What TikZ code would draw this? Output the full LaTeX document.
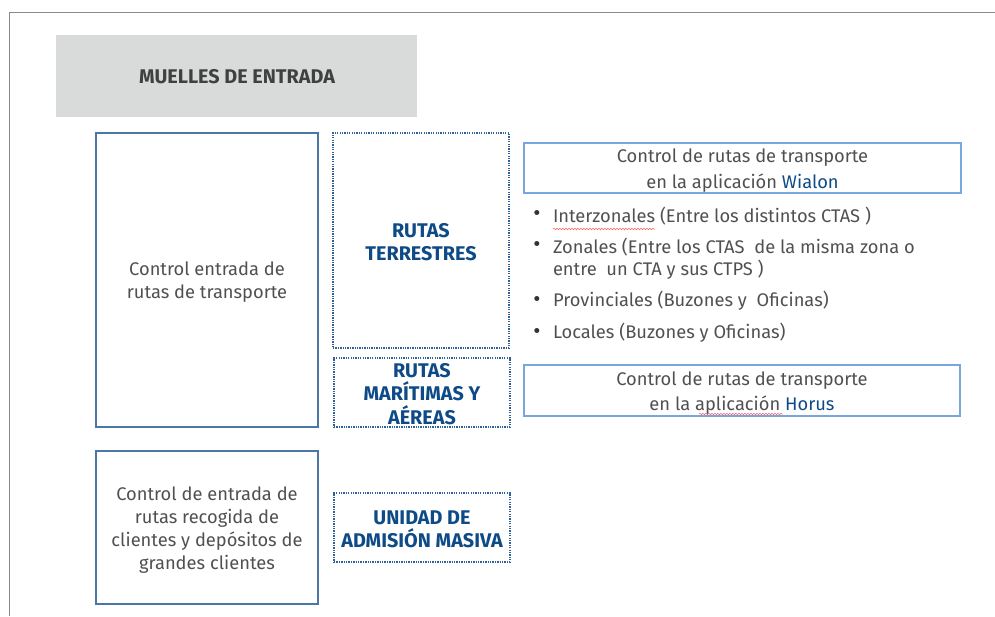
\documentclass[tikz,border=0pt]{standalone}
\usepackage{fontspec}
\setmainfont{Fira Sans}
\usetikzlibrary{decorations.pathmorphing}
\definecolor{framegray}{HTML}{8A8A8A}
\definecolor{headgray}{HTML}{D9DADA}
\definecolor{solidblue}{HTML}{4C76A3}
\definecolor{lightblue}{HTML}{79A6DC}
\definecolor{dotblue}{HTML}{2F6096}
\definecolor{titleblue}{HTML}{0E4A86}
\definecolor{txtgray}{HTML}{505050}
\tikzset{
  x=1pt, y=-1pt,
  every node/.style={inner sep=0pt, outer sep=0pt, font=\fontsize{18.3}{23}\selectfont, text=txtgray},
  solidbox/.style={draw=solidblue, line width=1.3pt, anchor=north west},
  dotbox/.style={draw=dotblue, line width=1.3pt, dash pattern=on 1.3pt off 1.1pt, anchor=north west},
  appbox/.style={draw=lightblue, line width=1.2pt, anchor=north west},
  boldtitle/.style={font=\bfseries\fontsize{19.8}{23.3}\selectfont, text=titleblue, align=center, yshift=-1.5pt},
  plain/.style={align=center, yshift=-2.5pt},
  apptext/.style={align=center, yshift=-2.5pt, font=\fontsize{18.3}{25.5}\selectfont},
  itemtext/.style={anchor=west, align=left},
  dotitem/.style={anchor=center, font=\fontsize{22}{23}\selectfont, text=black!80},
  squiggle/.style={draw=red!70, line width=0.5pt, decorate, decoration={snake, amplitude=0.6pt, segment length=3pt}}
}
\begin{document}
\begin{tikzpicture}
\useasboundingbox (0,0) rectangle (995,616);
% outer frame
\coordinate (f1) at (995,12);
\coordinate (f2) at (9,12);
\coordinate (f3) at (9,616);
\draw[framegray, line width=0.9pt] (f1) -- (f2) -- (f3);
% header
\node[fill=headgray, anchor=north west, minimum width=361pt, minimum height=82pt] (head) at (56,35) {};
\node[font=\bfseries\fontsize{19.8}{22}\selectfont, text=black!75] (headt) at (237,77) {MUELLES DE ENTRADA};
% left boxes
\node[solidbox, minimum width=222pt, minimum height=294pt] (lb1) at (96,133) {};
\node[plain] (lb1t) at (lb1.center) {Control entrada de\\rutas de transporte};
\node[solidbox, minimum width=222pt, minimum height=153pt] (lb2) at (96,451) {};
\node[plain, yshift=-0.5pt] (lb2t) at (lb2.center) {Control de entrada de\\rutas recogida de\\clientes y depósitos de\\grandes clientes};
% dotted boxes
\node[dotbox, minimum width=176pt, minimum height=215pt] (d1) at (333,133) {};
\node[boldtitle] (d1t) at (d1.center) {RUTAS\\TERRESTRES};
\node[dotbox, minimum width=176pt, minimum height=69pt] (d2) at (334,358) {};
\node[boldtitle] (d2t) at (d2.center) {RUTAS\\MARÍTIMAS Y\\AÉREAS};
\node[dotbox, minimum width=176pt, minimum height=69pt] (d3) at (334,493) {};
\node[boldtitle] (d3t) at (d3.center) {UNIDAD DE\\ADMISIÓN MASIVA};
% app boxes
\node[appbox, minimum width=437pt, minimum height=50pt] (w) at (524,143) {};
\node[apptext] (wt) at (w.center) {Control de rutas de transporte\\en la aplicación \textcolor{titleblue}{Wialon}};
\node[appbox, minimum width=436pt, minimum height=51pt] (h) at (524,365) {};
\node[apptext] (ht) at (h.center) {Control de rutas de transporte\\en la aplicación \textcolor{titleblue}{Horus}};
% bullet list
\node[dotitem] (b1) at (537,216) {•};
\node[itemtext] (i1) at (553,216) {Interzonales (Entre los distintos CTAS )};
\node[dotitem] (b2) at (537,247) {•};
\node[itemtext] (i2) at (553,247) {Zonales (Entre los CTAS\ \ de la misma zona o};
\node[itemtext] (i2b) at (553,270) {entre\ \ un CTA y sus CTPS )};
\node[dotitem] (b3) at (537,301) {•};
\node[itemtext] (i3) at (553,301) {Provinciales (Buzones y\ \ Oficinas)};
\node[dotitem] (b4) at (537,333) {•};
\node[itemtext] (i4) at (553,333) {Locales (Buzones y Oficinas)};
% spell-check squiggles
\coordinate (s1a) at (553,229);
\coordinate (s1b) at (655,229);
\draw[squiggle] (s1a) -- (s1b);
\coordinate (s2a) at (699,414);
\coordinate (s2b) at (783,414);
\draw[squiggle] (s2a) -- (s2b);
\end{tikzpicture}
\end{document}
